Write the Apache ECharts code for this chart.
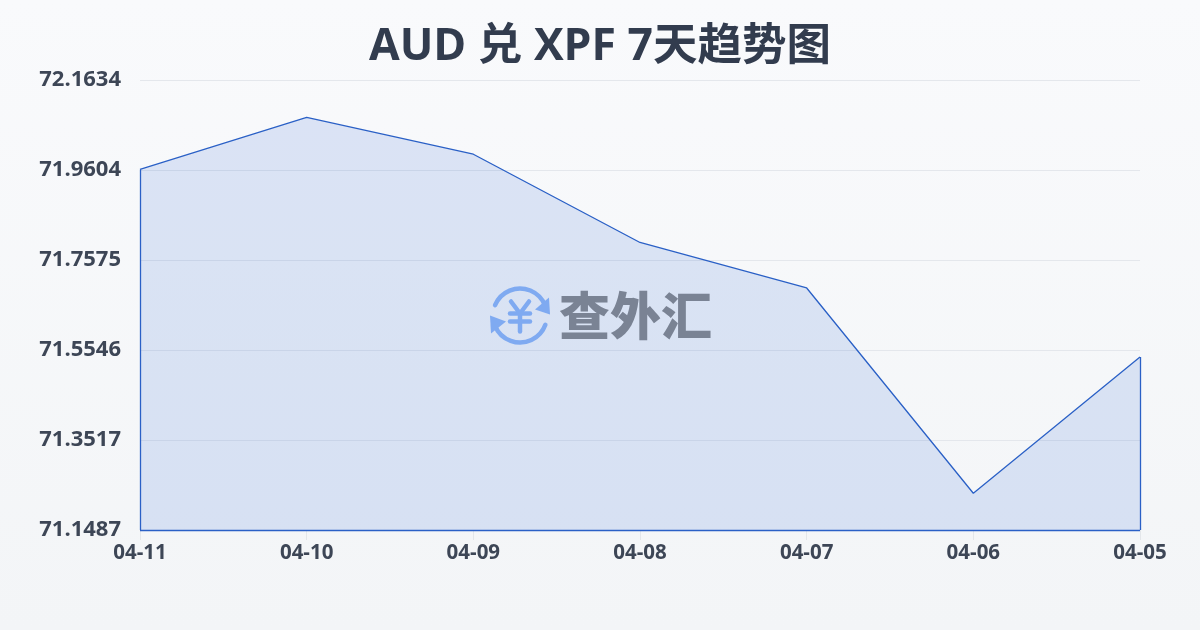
<!DOCTYPE html>
<html><head><meta charset="utf-8">
<style>html,body{margin:0;padding:0;width:1200px;height:630px;overflow:hidden}
#c{width:1200px;height:630px}</style>
<script src="https://cdn.jsdelivr.net/npm/echarts@6/dist/echarts.min.js"></script>
</head><body><div id="c"></div>
<script>
const titleText = 'AUD 兑 XPF 7天趋势图';
const categories = ['04-11','04-10','04-09','04-08','04-07','04-06','04-05'];
const values = [71.9616,72.0789,71.9960,71.7970,71.6944,71.2315,71.5388];
const yTicks = [71.1487,71.3517,71.5546,71.7575,71.9604,72.1634];
const font = '"Open Sans","Noto Sans CJK SC",sans-serif';
const lineColor = '#2a60c6';
const logoBlue = '#8db6f6';
const yMin = yTicks[0], yMax = yTicks[yTicks.length-1];
const chart = echarts.init(document.getElementById('c'),null,{renderer:'canvas'});
const last = categories.length-1;
chart.setOption({
  animation:false,
  backgroundColor:{type:'linear',x:0,y:0,x2:0,y2:1,colorStops:[{offset:0,color:'#f9fafc'},{offset:1,color:'#f3f5f7'}]},
  title:{text:titleText,left:'center',top:20,textStyle:{fontFamily:font,fontSize:44.5,fontWeight:'bold',color:'#323c4e'}},
  grid:{left:140,right:60,top:80,bottom:100},
  xAxis:{type:'category',boundaryGap:false,data:categories,
    axisLine:{show:false},
    axisTick:{show:true,length:10,lineStyle:{color:'#e3e6ea'}},
    axisLabel:{interval:0,margin:13,fontFamily:font,fontSize:20.5,fontWeight:'bold',color:'#3d4656'},
    splitLine:{show:false}},
  yAxis:{type:'value',min:yMin,max:yMax,
    axisLine:{show:false},
    axisTick:{show:false,customValues:yTicks},
    axisLabel:{customValues:yTicks,margin:19,padding:[0,0,6,0],fontFamily:font,fontSize:22,fontWeight:'bold',color:'#3d4656',formatter:v=>v.toFixed(4)},
    splitLine:{show:true,lineStyle:{color:'#e4e7ec',width:1}}},
  series:[{type:'line',data:values,symbol:'none',smooth:false,silent:true,
    lineStyle:{color:lineColor,width:1.3},
    areaStyle:{color:'rgba(46,96,212,0.2)',origin:'start'},
    markLine:{silent:true,symbol:'none',label:{show:false},lineStyle:{color:lineColor,width:1.3,type:'solid'},
      data:[
        [{coord:[categories[0],yMin]},{coord:[categories[0],values[0]]}],
        [{coord:[categories[last],yMin]},{coord:[categories[last],values[last]]}],
        [{coord:[categories[0],yMin]},{coord:[categories[last],yMin]}]
      ]}
  }],
  graphic:{elements:[
    {type:'group',left:490,top:286,z:100,silent:true,children:[
      {type:'arc',shape:{cx:30,cy:29,r:27,startAngle:-2.75,endAngle:-0.35},style:{stroke:logoBlue,lineWidth:4.5,fill:'none',lineCap:'round'}},
      {type:'arc',shape:{cx:30,cy:29,r:27,startAngle:0.35,endAngle:2.75},style:{stroke:logoBlue,lineWidth:4.5,fill:'none',lineCap:'round'}},
      {type:'polygon',shape:{points:[[59,11],[60,28],[45,23]]},style:{fill:logoBlue}},
      {type:'polygon',shape:{points:[[0,29],[16,35],[1,47]]},style:{fill:logoBlue}},
      {type:'polyline',shape:{points:[[21,15],[30,27],[39,15]]},style:{stroke:logoBlue,lineWidth:4.5,fill:'none',lineCap:'round',lineJoin:'round'}},
      {type:'line',shape:{x1:30,y1:27,x2:30,y2:45},style:{stroke:logoBlue,lineWidth:4.5,lineCap:'round'}},
      {type:'line',shape:{x1:20,y1:27,x2:40,y2:27},style:{stroke:logoBlue,lineWidth:4.5,lineCap:'round'}},
      {type:'line',shape:{x1:20,y1:35,x2:40,y2:35},style:{stroke:logoBlue,lineWidth:4.5,lineCap:'round'}}
    ]},
    {type:'text',left:559,top:290,z:100,silent:true,style:{text:'查外汇',fontFamily:'"Noto Sans CJK SC"',fontSize:51,fontWeight:900,fill:'#7a8394'}}
  ]}
});
</script></body></html>
